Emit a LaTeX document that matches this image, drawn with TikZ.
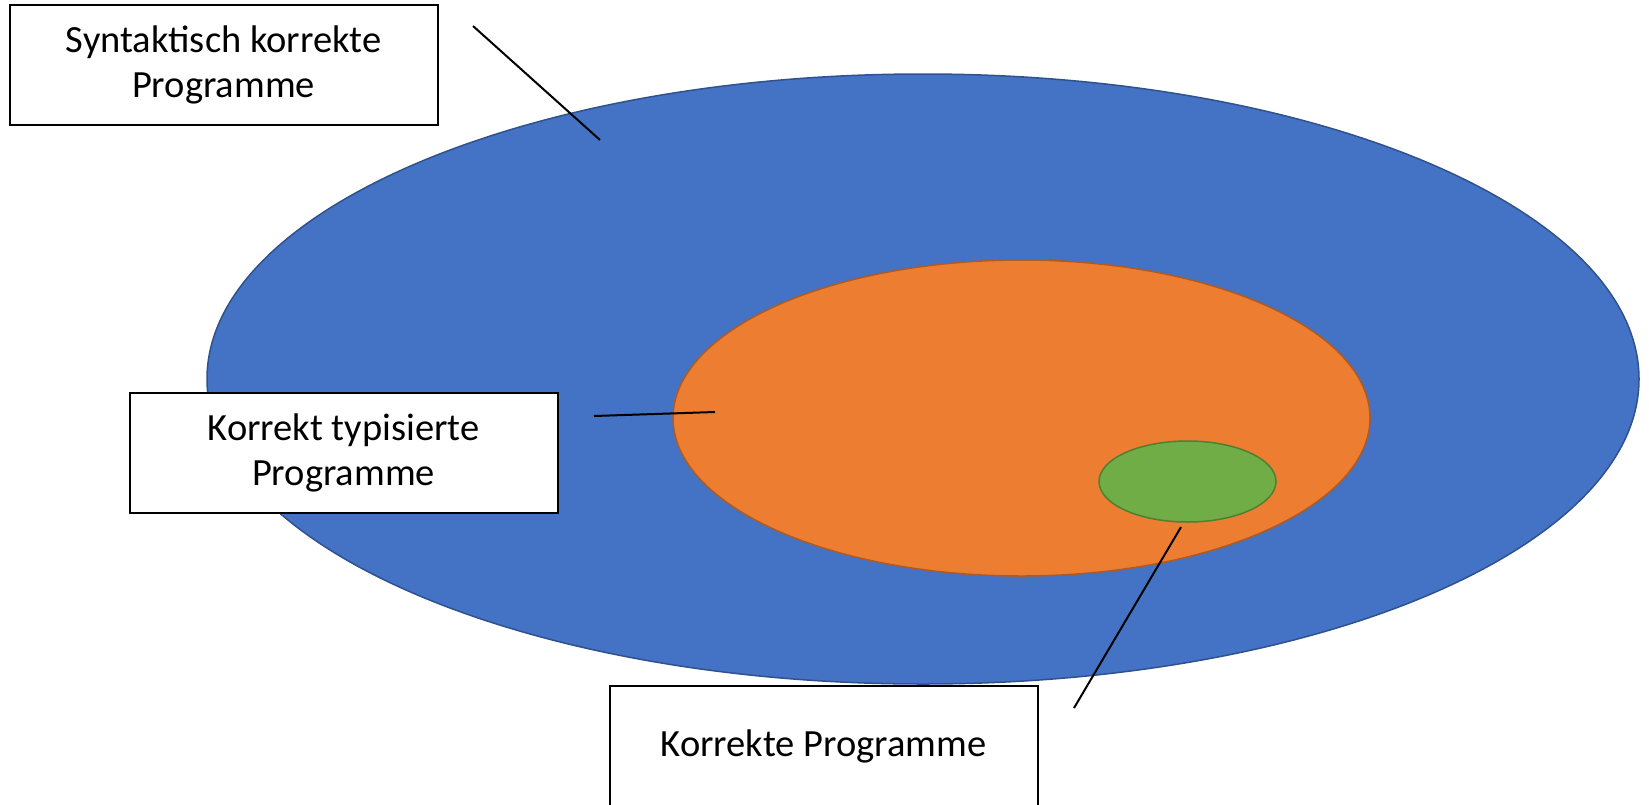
\documentclass[tikz,border=0pt]{standalone}
\usepackage{fontspec}
\setmainfont{Carlito}
\usetikzlibrary{shapes.geometric, positioning}
\definecolor{setblue}{HTML}{4472C4}
\definecolor{setblueline}{HTML}{2F528F}
\definecolor{setorange}{HTML}{ED7D31}
\definecolor{setorangeline}{HTML}{AE5A21}
\definecolor{setgreen}{HTML}{70AD47}
\definecolor{setgreenline}{HTML}{507E32}

\begin{document}
\begin{tikzpicture}[
  x=1pt, y=-1pt,
  labelbox/.style={draw, line width=2pt, fill=white, minimum width=428pt,
    minimum height=120pt, align=center,
    font=\fontsize{38.5}{45}\selectfont},
  set/.style={ellipse, inner sep=0pt, line width=1.5pt},
  callout/.style={line width=2pt}
]
  \useasboundingbox (0,0) rectangle (1649,804);

  % Sets
  \node[set, fill=setblue, draw=setblueline, minimum width=1432pt,
    minimum height=610pt] (syntax) at (923,379) {};
  \node[set, fill=setorange, draw=setorangeline, minimum width=697pt,
    minimum height=316pt] (typed) at (1021.5,418) {};
  \node[set, fill=setgreen, draw=setgreenline, minimum width=177pt,
    minimum height=81pt] (correct) at (1187.5,481.5) {};

  % Labels
  \node[labelbox] (syntaxlbl) at (223.5,64.5)
    {Syntaktisch korrekte\\Programme};
  \node[labelbox] (typedlbl) at (343.5,453)
    {Korrekt typisierte\\Programme};
  \node[labelbox] (correctlbl) at (823.5,746) {Korrekte Programme};

  % Callout lines
  \coordinate (syntaxend) at (473,26);
  \coordinate (syntaxtip) at (600,140);
  \coordinate (typedend) at (594,416);
  \coordinate (typedtip) at (715,412);
  \coordinate (correctend) at (1074,708);
  \coordinate (correcttip) at (1181,527);
  \draw[callout] (syntaxend) -- (syntaxtip);
  \draw[callout] (typedend) -- (typedtip);
  \draw[callout] (correctend) -- (correcttip);
\end{tikzpicture}
\end{document}
